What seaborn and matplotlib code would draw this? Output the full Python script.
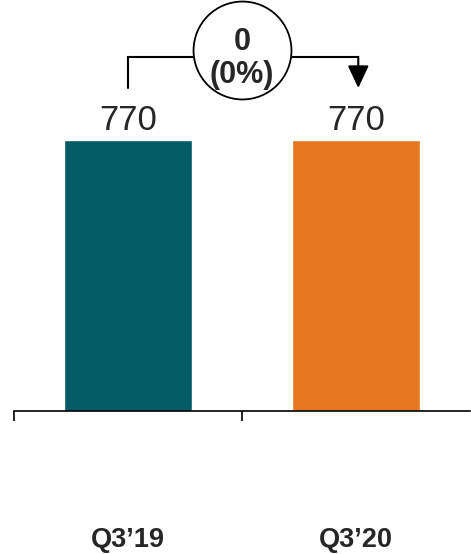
import matplotlib
matplotlib.use("Agg")
import matplotlib.pyplot as plt
import seaborn as sns
import pandas as pd

categories = ["Q3\u201919", "Q3\u201920"]
values = [770, 770]
change_abs = "0"
change_pct = "(0%)"
colors = ["#035C65", "#E87722"]

sns.set_theme(style="white")
plt.rcParams["font.family"] = ["Liberation Sans", "DejaVu Sans"]

W, H = 471, 554
fig = plt.figure(figsize=(W / 100, H / 100), dpi=100)
ax = fig.add_axes([14 / W, (H - 411) / H, (470 - 14) / W, 411 / H])

df = pd.DataFrame({"cat": categories, "val": values})
sns.barplot(data=df, x="cat", y="val", hue="cat", palette=colors, width=0.56,
            saturation=1, legend=False, ax=ax)

ymax = 770 * 411 / 271
ax.set_xlim(-0.5, 1.5)
ax.set_ylim(0, ymax)

for c in ax.containers:
    ax.bar_label(c, labels=[f"{int(round(v)):,}" for v in c.datavalues], padding=2, fontsize=25)

for s in ["top", "right", "left"]:
    ax.spines[s].set_visible(False)
ax.spines["bottom"].set_color("black")
ax.spines["bottom"].set_linewidth(1.2)
ax.set_yticks([])
ax.set_xlabel("")
ax.set_ylabel("")
ax.set_xticks([0, 1])
ax.set_xticklabels(categories, fontsize=19.5, fontweight="bold")
ax.tick_params(axis="x", which="major", length=0, pad=83.5)
ax.set_xticks([-0.5, 0.5], minor=True)
ax.tick_params(axis="x", which="minor", length=7.5, width=1.2, color="black", direction="out", bottom=True)

def ypx(p):
    return (411 - p) / 411 * ymax

# bracket
y_h = ypx(57)
y_l = ypx(88)
ax.plot([0, 0, 0.5], [y_l, y_h, y_h], color="black", lw=1.5, clip_on=False, solid_joinstyle="miter")
ax.plot([0.5, 1.01], [y_h, y_h], color="black", lw=1.5, clip_on=False, solid_joinstyle="miter")
ax.annotate("", xy=(1.01, y_l), xytext=(1.01, y_h + 0.5),
            arrowprops=dict(arrowstyle="-|>,head_length=1.15,head_width=0.54", color="black", lw=1.5,
                            shrinkA=0, shrinkB=0), annotation_clip=False)
ax.plot([0.5], [ypx(49.5)], marker="o", ms=70.5, mfc="white", mec="black", mew=1.3, clip_on=False, zorder=5)
ax.text(0.5, ypx(38.5), change_abs, ha="center", va="center_baseline", fontsize=22, fontweight="bold", zorder=6)
ax.text(0.5, ypx(71.5), change_pct, ha="center", va="center_baseline", fontsize=22, fontweight="bold", zorder=6)

fig.savefig("out.png", dpi=100)
